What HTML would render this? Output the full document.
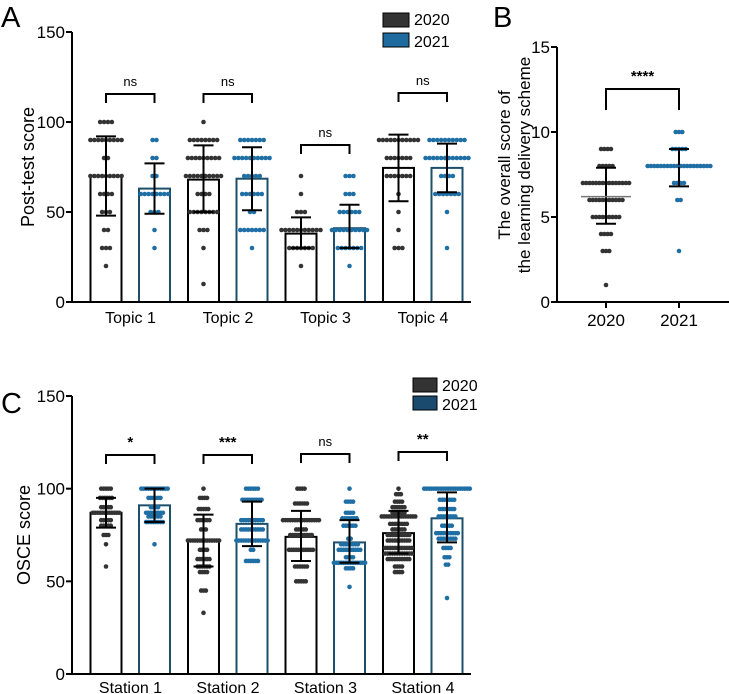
<!DOCTYPE html>
<html><head><meta charset="utf-8"><style>
html,body{margin:0;padding:0;background:#fff;}
body{position:relative;width:729px;height:694px;overflow:hidden}
svg{display:block;font-family:"Liberation Sans",Arial,sans-serif;}
</style></head><body>
<svg id="fig" width="729" height="694" viewBox="0 0 729 694"></svg>
<script>
// ---------- Panel A data ----------
const topics = ["Topic 1","Topic 2","Topic 3","Topic 4"];
const aMean2020 = [70, 68, 38, 74.5];
const aMean2021 = [63, 68.5, 41, 74.5];
const aSdHi2020 = [92, 87, 47, 93];
const aSdLo2020 = [48, 50, 30, 56];
const aSdHi2021 = [77, 86, 54, 88];
const aSdLo2021 = [49, 51, 30, 61];
const aSig = ["ns","ns","ns","ns"];
const aDots2020 = [
 [[100,4],[90,9],[80,2],[70,9],[60,4],[50,3],[40,2],[30,3],[20,1]],
 [[100,1],[90,8],[80,9],[70,10],[60,4],[50,8],[40,3],[30,1],[10,1]],
 [[70,1],[60,1],[50,3],[40,11],[30,7],[20,1]],
 [[90,11],[80,7],[70,7],[60,1],[50,1],[40,1],[30,3]]
];
const aDots2021 = [
 [[90,2],[80,2],[70,2],[60,8],[50,3],[40,1],[30,1]],
 [[90,7],[80,10],[70,5],[60,6],[50,2],[40,7],[30,1]],
 [[70,3],[60,3],[50,6],[40,10],[30,7],[20,1]],
 [[90,10],[80,12],[70,4],[60,7],[50,1],[30,1]]
];
const aTicks = [0,50,100,150];
// ---------- Panel B data ----------
const bCats = ["2020","2021"];
const bMean = [6.2, 8.0];
const bSdHi = [7.9, 9.0];
const bSdLo = [4.6, 6.8];
const bDots = [
 [[9,4],[8,5],[7,15],[6,11],[5,9],[4,4],[3,3],[1,1]],
 [[10,3],[9,5],[8,20],[7,4],[6,2],[3,1]]
];
const bTicks = [0,5,10,15];
// ---------- Panel C data ----------
const stations = ["Station 1","Station 2","Station 3","Station 4"];
const cMean2020 = [87, 72, 74, 76];
const cMean2021 = [91, 81, 71, 84];
const cSdHi2020 = [95, 86, 88, 88];
const cSdLo2020 = [79, 58, 61, 65];
const cSdHi2021 = [100, 93, 83, 98];
const cSdLo2021 = [82, 69, 60, 71];
const cSig = ["*","***","ns","**"];
const cDots2020 = [
 [[100,5],[95,6],[90,5],[87,12],[83,5],[80,5],[75,3],[70,1],[58,1]],
 [[100,1],[95,4],[89,5],[83,6],[78,3],[72,14],[67,4],[62,6],[58,6],[55,4],[45,3],[33,1]],
 [[100,4],[92,6],[83,16],[78,5],[75,10],[67,11],[58,6],[50,5]],
 [[100,1],[97,3],[93,4],[90,6],[87,6],[85,15],[81,8],[78,6],[75,10],[72,10],[68,12],[65,12],[62,10],[58,4],[55,4]]
];
const cDots2021 = [
 [[100,12],[95,6],[90,4],[87,8],[85,6],[82,8],[70,1]],
 [[100,6],[94,9],[83,10],[78,10],[72,14],[67,2],[61,6]],
 [[100,1],[93,4],[87,4],[84,7],[80,6],[73,2],[70,8],[67,10],[63,4],[60,14],[57,4],[47,1]],
 [[100,20],[94,7],[89,7],[85,8],[80,5],[76,10],[73,8],[68,4],[63,3],[59,2],[41,1]]
];
const cTicks = [0,50,100,150];

const NS="http://www.w3.org/2000/svg";
const svg=document.getElementById('fig');
function el(tag,attrs,parent,text){const e=document.createElementNS(NS,tag);for(const k in attrs)e.setAttribute(k,attrs[k]);if(text!==undefined)e.textContent=text;(parent||svg).appendChild(e);return e;}
const DARK="#333", BLUE="#1f6fa5", BLUEEDGE="#1d4f6a";

function dotsAt(g,cx,dots,ys,color,sp){
  dots.forEach(([v,n])=>{
    for(let i=0;i<n;i++){
      const x=cx+(i-(n-1)/2)*sp;
      const c=el('circle',{cx:x,cy:ys(v),r:2.3,fill:color},g);
      
      
    }
  });
}
function errBar(g,cx,hi,lo,mean,ys,meanColor,meanW){
  const p={stroke:"#000","stroke-width":2};
  el('line',Object.assign({x1:cx,x2:cx,y1:ys(hi),y2:ys(lo)},p),g);
  el('line',Object.assign({x1:cx-10,x2:cx+10,y1:ys(hi),y2:ys(hi)},p),g);
  el('line',Object.assign({x1:cx-10,x2:cx+10,y1:ys(lo),y2:ys(lo)},p),g);
  if(meanColor) el('line',{x1:cx-meanW,x2:cx+meanW,y1:ys(mean),y2:ys(mean),stroke:meanColor,"stroke-width":1.5},g);
}
function bracket(g,x1,x2,y,txt,ticks){
  el('path',{d:`M${x1} ${y+ticks}V${y}H${x2}V${y+ticks}`,fill:"none",stroke:"#000","stroke-width":2},g);
  const t=el('text',{x:(x1+x2)/2,y:y-8,"text-anchor":"middle","font-size":txt==="ns"?13:15,"font-weight":txt==="ns"?"normal":"bold"},g,txt);
  
  
}

function barPanel(name,cats,m0,m1,h0,l0,h1,l1,d0,d1,sig,ticks,y0px,y150px,ymax,title,titleX,labelY,brY,sp){
  const g=el('g',{},svg);
  
  
  const ys=v=>y0px-(v/ymax)*(y0px-y150px);
  const gc=i=>130.5+i*97.5;
  cats.forEach((c,i)=>{
    const x0=gc(i)-24.5, x1=gc(i)+24;
    const b0=el('rect',{x:x0-15.5,y:ys(m0[i]),width:31,height:y0px-ys(m0[i]),fill:"#fff",stroke:"#000","stroke-width":2},g);
    
    
    const b1=el('rect',{x:x1-15.5,y:ys(m1[i]),width:31,height:y0px-ys(m1[i]),fill:"#fff",stroke:BLUEEDGE,"stroke-width":2},g);
    
    
    dotsAt(g,x0,d0[i],ys,DARK,sp);
    dotsAt(g,x1,d1[i],ys,BLUE,sp);
    errBar(g,x0,h0[i],l0[i],m0[i],ys);
    errBar(g,x1,h1[i],l1[i],m1[i],ys);
    bracket(g,x0,x1,brY[i],sig[i],9);
    const t=el('text',{x:gc(i),y:labelY,"text-anchor":"middle","font-size":16},g,c);
    
    
  });
  el('path',{d:`M72 ${y150px}V${y0px}H471`,fill:"none",stroke:"#000","stroke-width":2},g);
  ticks.forEach(v=>{
    el('line',{x1:66,x2:72,y1:ys(v),y2:ys(v),stroke:"#000","stroke-width":2},g);
    const t=el('text',{x:65,y:ys(v)+6,"text-anchor":"end","font-size":17},g,v);
    
    
  });
  const ty=(y0px+y150px)/2;
  const yt=el('text',{x:titleX,y:ty,"text-anchor":"middle","font-size":18,transform:`rotate(-90 ${titleX} ${ty})`},g,title);
  
  
  return ys;
}

barPanel('panel-a-chart',topics,aMean2020,aMean2021,aSdHi2020,aSdLo2020,aSdHi2021,aSdLo2021,aDots2020,aDots2021,aSig,aTicks,302,32,150,"Post-test score",34,323,[94,94,145,93],3.9);
barPanel('panel-c-chart',stations,cMean2020,cMean2021,cSdHi2020,cSdLo2020,cSdHi2021,cSdLo2021,cDots2020,cDots2021,cSig,cTicks,674,396,150,"OSCE score",30,693,[455,455,454,452],2.4);

// Panel B
(function(){
  const g=el('g',{},svg);
  
  
  const ys=v=>302-(v/15)*255;
  const xs=i=>606+i*73;
  bCats.forEach((c,i)=>{
    dotsAt(g,xs(i),bDots[i],ys,i?BLUE:DARK,3.3);
    errBar(g,xs(i),bSdHi[i],bSdLo[i],bMean[i],ys,i?BLUE:"#777",25);
    el('line',{x1:xs(i),x2:xs(i),y1:302,y2:308,stroke:"#000","stroke-width":2},g);
    const t=el('text',{x:xs(i),y:326,"text-anchor":"middle","font-size":17},g,c);
    
    
  });
  bracket(g,xs(0),xs(1),89,"****",21);
  el('path',{d:"M557 47V302H729",fill:"none",stroke:"#000","stroke-width":2},g);
  bTicks.forEach(v=>{
    el('line',{x1:551,x2:557,y1:ys(v),y2:ys(v),stroke:"#000","stroke-width":2},g);
    const t=el('text',{x:550,y:ys(v)+6,"text-anchor":"end","font-size":17},g,v);
    
    
  });
  const t1=el('text',{x:510,y:165,"text-anchor":"middle","font-size":17,transform:"rotate(-90 510 165)"},g,"The overall score of");
  
  
  const t2=el('text',{x:530,y:165,"text-anchor":"middle","font-size":17,transform:"rotate(-90 530 165)"},g,"the learning delivery scheme");
  
  
})();
</script>
<svg width="729" height="694" style="position:absolute;left:0;top:0;font-family:'Liberation Sans',Arial,sans-serif">
 <text x="1" y="27" font-size="29">A</text>
 <text x="493" y="27" font-size="29">B</text>
 <text x="1" y="413" font-size="29">C</text>
 <g>
  <rect x="383" y="13" width="26" height="14" fill="#333" stroke="#000"/>
  <text x="414" y="25" font-size="16">2020</text>
  <rect x="383" y="33" width="26" height="14" fill="#1f6a9e" stroke="#000"/>
  <text x="414" y="47" font-size="16">2021</text>
 </g>
 <g>
  <rect x="413" y="378" width="24" height="14" fill="#333" stroke="#000"/>
  <text x="442" y="391" font-size="16">2020</text>
  <rect x="413" y="396" width="24" height="14" fill="#1a4a6e" stroke="#000"/>
  <text x="442" y="410" font-size="16">2021</text>
 </g>
</svg>
</body></html>
